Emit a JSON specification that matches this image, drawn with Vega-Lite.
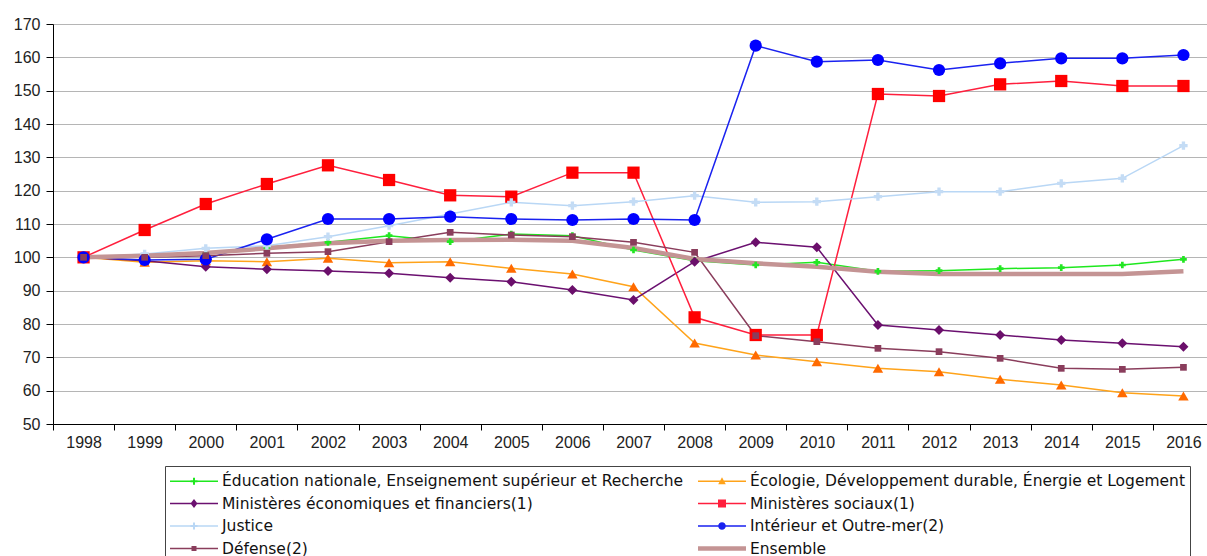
{
  "$schema": "https://vega.github.io/schema/vega-lite/v6.json",
  "width": 1161,
  "height": 400,
  "autosize": {"type": "none"},
  "padding": {"left": 53, "top": 24, "right": 0, "bottom": 132},
  "background": "white",
  "config": {"view": {"stroke": null}},
  "data": {"values": [
    {"annee": "1998", "Éducation nationale, Enseignement supérieur et Recherche": 100, "Écologie, Développement durable, Énergie et Logement": 100, "Ministères économiques et financiers(1)": 100, "Ministères sociaux(1)": 100, "Justice": 100, "Intérieur et Outre-mer(2)": 100, "Défense(2)": 100, "Ensemble": 100},
    {"annee": "1999", "Éducation nationale, Enseignement supérieur et Recherche": 100.5, "Écologie, Développement durable, Énergie et Logement": 98.5, "Ministères économiques et financiers(1)": 99, "Ministères sociaux(1)": 108.2, "Justice": 101, "Intérieur et Outre-mer(2)": 99.2, "Défense(2)": 100, "Ensemble": 100.5},
    {"annee": "2000", "Éducation nationale, Enseignement supérieur et Recherche": 101, "Écologie, Développement durable, Énergie et Logement": 99, "Ministères économiques et financiers(1)": 97.2, "Ministères sociaux(1)": 116, "Justice": 102.7, "Intérieur et Outre-mer(2)": 99.4, "Défense(2)": 100.5, "Ensemble": 101.3},
    {"annee": "2001", "Éducation nationale, Enseignement supérieur et Recherche": 103, "Écologie, Développement durable, Énergie et Logement": 98.7, "Ministères économiques et financiers(1)": 96.4, "Ministères sociaux(1)": 122, "Justice": 103.5, "Intérieur et Outre-mer(2)": 105.4, "Défense(2)": 101.2, "Ensemble": 102.7},
    {"annee": "2002", "Éducation nationale, Enseignement supérieur et Recherche": 104.5, "Écologie, Développement durable, Énergie et Logement": 99.7, "Ministères économiques et financiers(1)": 95.9, "Ministères sociaux(1)": 127.6, "Justice": 106.2, "Intérieur et Outre-mer(2)": 111.5, "Défense(2)": 101.7, "Ensemble": 104.2},
    {"annee": "2003", "Éducation nationale, Enseignement supérieur et Recherche": 106.5, "Écologie, Développement durable, Énergie et Logement": 98.4, "Ministères économiques et financiers(1)": 95.2, "Ministères sociaux(1)": 123.2, "Justice": 109.5, "Intérieur et Outre-mer(2)": 111.5, "Défense(2)": 104.7, "Ensemble": 105},
    {"annee": "2004", "Éducation nationale, Enseignement supérieur et Recherche": 104.7, "Écologie, Développement durable, Énergie et Logement": 98.7, "Ministères économiques et financiers(1)": 93.9, "Ministères sociaux(1)": 118.6, "Justice": 113, "Intérieur et Outre-mer(2)": 112.2, "Défense(2)": 107.5, "Ensemble": 105.2},
    {"annee": "2005", "Éducation nationale, Enseignement supérieur et Recherche": 107, "Écologie, Développement durable, Énergie et Logement": 96.7, "Ministères économiques et financiers(1)": 92.7, "Ministères sociaux(1)": 118.2, "Justice": 116.5, "Intérieur et Outre-mer(2)": 111.5, "Défense(2)": 106.7, "Ensemble": 105.3},
    {"annee": "2006", "Éducation nationale, Enseignement supérieur et Recherche": 106.5, "Écologie, Développement durable, Énergie et Logement": 95, "Ministères économiques et financiers(1)": 90.2, "Ministères sociaux(1)": 125.4, "Justice": 115.5, "Intérieur et Outre-mer(2)": 111.2, "Défense(2)": 106.2, "Ensemble": 105},
    {"annee": "2007", "Éducation nationale, Enseignement supérieur et Recherche": 102.2, "Écologie, Développement durable, Énergie et Logement": 91.2, "Ministères économiques et financiers(1)": 87.2, "Ministères sociaux(1)": 125.4, "Justice": 116.7, "Intérieur et Outre-mer(2)": 111.5, "Défense(2)": 104.5, "Ensemble": 102.8},
    {"annee": "2008", "Éducation nationale, Enseignement supérieur et Recherche": 99, "Écologie, Développement durable, Énergie et Logement": 74.3, "Ministères économiques et financiers(1)": 98.7, "Ministères sociaux(1)": 82, "Justice": 118.5, "Intérieur et Outre-mer(2)": 111.2, "Défense(2)": 101.5, "Ensemble": 99.5},
    {"annee": "2009", "Éducation nationale, Enseignement supérieur et Recherche": 97.7, "Écologie, Développement durable, Énergie et Logement": 70.7, "Ministères économiques et financiers(1)": 104.5, "Ministères sociaux(1)": 76.7, "Justice": 116.5, "Intérieur et Outre-mer(2)": 163.5, "Défense(2)": 76.5, "Ensemble": 98.2},
    {"annee": "2010", "Éducation nationale, Enseignement supérieur et Recherche": 98.5, "Écologie, Développement durable, Énergie et Logement": 68.7, "Ministères économiques et financiers(1)": 103, "Ministères sociaux(1)": 76.7, "Justice": 116.7, "Intérieur et Outre-mer(2)": 158.7, "Défense(2)": 74.7, "Ensemble": 97.2},
    {"annee": "2011", "Éducation nationale, Enseignement supérieur et Recherche": 95.8, "Écologie, Développement durable, Énergie et Logement": 66.7, "Ministères économiques et financiers(1)": 79.7, "Ministères sociaux(1)": 149, "Justice": 118.2, "Intérieur et Outre-mer(2)": 159.2, "Défense(2)": 72.7, "Ensemble": 95.7},
    {"annee": "2012", "Éducation nationale, Enseignement supérieur et Recherche": 96, "Écologie, Développement durable, Énergie et Logement": 65.7, "Ministères économiques et financiers(1)": 78.2, "Ministères sociaux(1)": 148.4, "Justice": 119.7, "Intérieur et Outre-mer(2)": 156.2, "Défense(2)": 71.7, "Ensemble": 95},
    {"annee": "2013", "Éducation nationale, Enseignement supérieur et Recherche": 96.6, "Écologie, Développement durable, Énergie et Logement": 63.4, "Ministères économiques et financiers(1)": 76.7, "Ministères sociaux(1)": 151.9, "Justice": 119.7, "Intérieur et Outre-mer(2)": 158.2, "Défense(2)": 69.7, "Ensemble": 95},
    {"annee": "2014", "Éducation nationale, Enseignement supérieur et Recherche": 96.9, "Écologie, Développement durable, Énergie et Logement": 61.7, "Ministères économiques et financiers(1)": 75.2, "Ministères sociaux(1)": 152.9, "Justice": 122.2, "Intérieur et Outre-mer(2)": 159.7, "Défense(2)": 66.7, "Ensemble": 95},
    {"annee": "2015", "Éducation nationale, Enseignement supérieur et Recherche": 97.7, "Écologie, Développement durable, Énergie et Logement": 59.4, "Ministères économiques et financiers(1)": 74.2, "Ministères sociaux(1)": 151.4, "Justice": 123.7, "Intérieur et Outre-mer(2)": 159.7, "Défense(2)": 66.4, "Ensemble": 95},
    {"annee": "2016", "Éducation nationale, Enseignement supérieur et Recherche": 99.4, "Écologie, Développement durable, Énergie et Logement": 58.4, "Ministères économiques et financiers(1)": 73.2, "Ministères sociaux(1)": 151.4, "Justice": 133.5, "Intérieur et Outre-mer(2)": 160.7, "Défense(2)": 67, "Ensemble": 95.8}
  ]},
  "transform": [
    {"fold": ["Éducation nationale, Enseignement supérieur et Recherche", "Écologie, Développement durable, Énergie et Logement", "Ministères économiques et financiers(1)", "Ministères sociaux(1)", "Justice", "Intérieur et Outre-mer(2)", "Défense(2)", "Ensemble"], "as": ["serie", "valeur"]}
  ],
  "encoding": {
    "x": {
      "field": "annee", "type": "ordinal", "bandPosition": 0.5,
      "scale": {"type": "band", "paddingInner": 0, "paddingOuter": 0},
      "axis": {"title": null, "labelAngle": 0, "tickBand": "extent", "grid": false, "domainColor": "#000", "tickColor": "#000", "tickSize": 6, "labelFont": "Liberation Sans, Arial, sans-serif", "labelFontSize": 16, "labelColor": "#222", "labelPadding": 4}
    },
    "y": {
      "field": "valeur", "type": "quantitative",
      "scale": {"domain": [50, 170], "nice": false, "zero": false},
      "axis": {"title": null, "values": [50, 60, 70, 80, 90, 100, 110, 120, 130, 140, 150, 160, 170], "grid": true, "gridColor": "#b5b5b5", "domainColor": "#000", "tickColor": "#000", "tickSize": 7, "labelFont": "Liberation Sans, Arial, sans-serif", "labelFontSize": 16, "labelColor": "#222", "labelPadding": 6}
    }
  },
  "layer": [
    {
      "transform": [{"filter": "datum.serie !== 'Ensemble'"}],
      "mark": {"type": "line", "strokeWidth": 1.5},
      "encoding": {
        "color": {"field": "serie", "type": "nominal",
          "scale": {"domain": ["Éducation nationale, Enseignement supérieur et Recherche", "Ministères économiques et financiers(1)", "Justice", "Défense(2)", "Écologie, Développement durable, Énergie et Logement", "Ministères sociaux(1)", "Intérieur et Outre-mer(2)", "Ensemble"],
                    "range": ["#1ee81e", "#6b1070", "#b9d7f5", "#8a3d5c", "#ffa31a", "#ff1f3d", "#1a22f0", "#c49494"]},
          "legend": {"title": null, "orient": "none", "legendX": 112, "legendY": 442, "columns": 2, "symbolSize": 400, "symbolOffset": 14, "symbolStrokeWidth": 0, "symbolOpacity": 1, "labelFont": "DejaVu Sans, sans-serif", "labelFontSize": 15.5, "labelColor": "#111", "labelLimit": 0, "labelOffset": 18, "strokeColor": "#444", "padding": 5, "columnPadding": 14, "rowPadding": 3.5}
        }
      }
    },
    {
      "transform": [{"filter": "datum.serie === 'Ensemble'"}],
      "mark": {"type": "line", "strokeWidth": 4.5},
      "encoding": {
        "color": {"field": "serie", "type": "nominal"}
      }
    },
    {"transform": [{"filter": "datum.serie === 'Éducation nationale, Enseignement supérieur et Recherche'"}], "mark": {"type": "point", "shape": "cross", "filled": true, "size": 45, "color": "#22e622", "opacity": 1}},
    {"transform": [{"filter": "datum.serie === 'Écologie, Développement durable, Énergie et Logement'"}], "mark": {"type": "point", "shape": "triangle-up", "filled": true, "size": 110, "color": "#ff6a00", "opacity": 1}},
    {"transform": [{"filter": "datum.serie === 'Ministères économiques et financiers(1)'"}], "mark": {"type": "point", "shape": "diamond", "filled": true, "size": 100, "color": "#6b0f6b", "opacity": 1}},
    {"transform": [{"filter": "datum.serie === 'Ministères sociaux(1)'"}], "mark": {"type": "point", "shape": "square", "filled": true, "size": 150, "color": "#ff0000", "opacity": 1}},
    {"transform": [{"filter": "datum.serie === 'Justice'"}], "mark": {"type": "point", "shape": "cross", "filled": true, "size": 70, "color": "#c4dcf5", "opacity": 1}},
    {"transform": [{"filter": "datum.serie === 'Intérieur et Outre-mer(2)'"}], "mark": {"type": "point", "shape": "circle", "filled": true, "size": 150, "color": "#0000ff", "opacity": 1}},
    {"transform": [{"filter": "datum.serie === 'Défense(2)'"}], "mark": {"type": "point", "shape": "square", "filled": true, "size": 45, "color": "#8a3d5c", "opacity": 1}},
    {
      "mark": {"type": "point", "filled": true, "opacity": 0, "size": 10},
      "encoding": {
        "color": {"field": "serie", "type": "nominal"},
        "shape": {"field": "serie", "type": "nominal",
          "scale": {"domain": ["Éducation nationale, Enseignement supérieur et Recherche", "Ministères économiques et financiers(1)", "Justice", "Défense(2)", "Écologie, Développement durable, Énergie et Logement", "Ministères sociaux(1)", "Intérieur et Outre-mer(2)", "Ensemble"],
            "range": [
              "M-2.4,-0.075H2.4V0.075H-2.4Z M-0.35,-0.1H0.35V0.1H-0.35Z M-0.1,-0.35H0.1V0.35H-0.1Z",
              "M-2.4,-0.075H2.4V0.075H-2.4Z M0,-0.45L0.35,0L0,0.45L-0.35,0Z",
              "M-2.4,-0.075H2.4V0.075H-2.4Z M-0.35,-0.1H0.35V0.1H-0.35Z M-0.1,-0.35H0.1V0.35H-0.1Z",
              "M-2.4,-0.075H2.4V0.075H-2.4Z M-0.25,-0.25H0.25V0.25H-0.25Z",
              "M-2.4,-0.075H2.4V0.075H-2.4Z M0,-0.4L0.38,0.3H-0.38Z",
              "M-2.4,-0.075H2.4V0.075H-2.4Z M-0.4,-0.4H0.4V0.4H-0.4Z",
              "M-2.4,-0.075H2.4V0.075H-2.4Z M-0.38,0A0.38,0.38 0 1,1 0.38,0A0.38,0.38 0 1,1 -0.38,0Z",
              "M-2.4,-0.22H2.4V0.22H-2.4Z"
            ]},
          "legend": {"title": null, "orient": "none", "legendX": 112, "legendY": 442, "columns": 2, "symbolSize": 400, "symbolOffset": 14, "symbolStrokeWidth": 0, "symbolOpacity": 1, "labelFont": "DejaVu Sans, sans-serif", "labelFontSize": 15.5, "labelColor": "#111", "labelLimit": 0, "labelOffset": 18, "strokeColor": "#444", "padding": 5, "columnPadding": 14, "rowPadding": 3.5}
        }
      }
    }
  ]
}
